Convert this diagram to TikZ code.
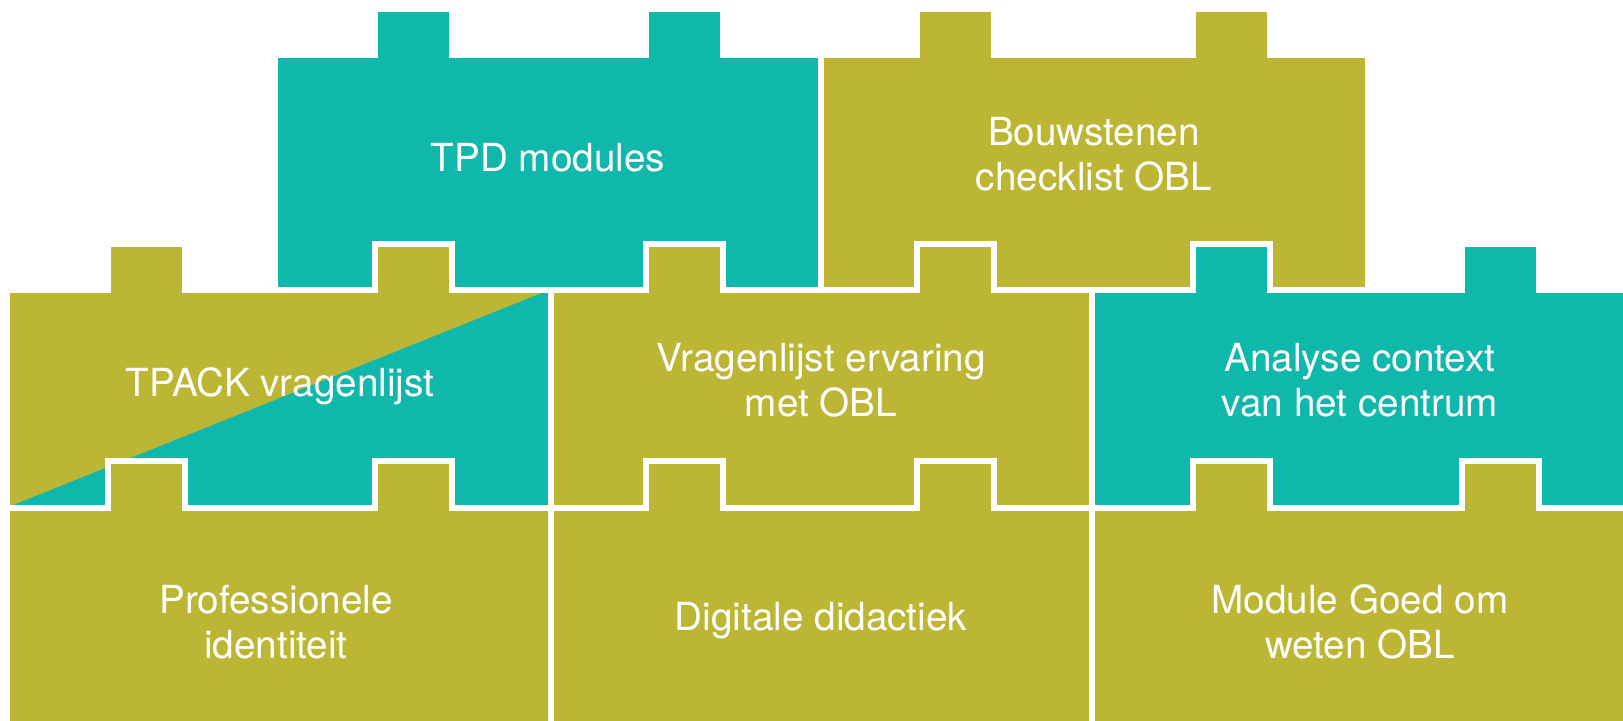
\documentclass[tikz,border=0pt]{standalone}
\usepackage{fontspec}
\setmainfont{TeX Gyre Heros}
\usepackage{tikz}
\definecolor{puzzleteal}{RGB}{16,184,171}
\definecolor{puzzleolive}{RGB}{189,182,52}
\newcommand\tabw{77}
\newcommand\puzzlepiece[9]{%
  \filldraw[piece,#9] (#1,#4) -- (#7,#4) -- (#7,#3) -- ({#7+\tabw},#3) -- ({#7+\tabw},#4)
    -- (#8,#4) -- (#8,#3) -- ({#8+\tabw},#3) -- ({#8+\tabw},#4) -- (#2,#4)
    -- (#2,#5) -- ({#8+\tabw},#5) -- ({#8+\tabw},#6) -- (#8,#6) -- (#8,#5)
    -- ({#7+\tabw},#5) -- ({#7+\tabw},#6) -- (#7,#6) -- (#7,#5) -- (#1,#5) -- cycle;}

\begin{document}
\begin{tikzpicture}[x=0.01cm,y=-0.01cm,
  piece/.style={draw=white,line width=0.06cm,line join=miter},
  piecetext/.style={text=white,align=center,font=\fontsize{11}{12.8}\selectfont}]
\useasboundingbox (0,0) rectangle (1623,720);
\clip (0,0) rectangle (1623,720);
\puzzlepiece{275}{821}{9}{55}{289.5}{243.5}{375}{646}{fill=puzzleteal}
\puzzlepiece{821}{1368}{9}{55}{289.5}{243.5}{917}{1193}{fill=puzzleolive}
\puzzlepiece{7}{550.5}{243.5}{289.5}{507.5}{461}{108}{375}{fill=puzzleolive,
  path picture={\fill[puzzleteal] (7,507.5) -- (550.5,289.5) -- (550.5,507.5) -- cycle;}}
\puzzlepiece{550.5}{1091.5}{243.5}{289.5}{507.5}{461}{646}{917}{fill=puzzleolive}
\puzzlepiece{1091.5}{1640}{243.5}{289.5}{507.5}{461}{1193}{1462}{fill=puzzleteal}
\puzzlepiece{7}{550.5}{461}{507.5}{730}{730}{108}{375}{fill=puzzleolive}
\puzzlepiece{550.5}{1091.5}{461}{507.5}{730}{730}{646}{917}{fill=puzzleolive}
\puzzlepiece{1091.5}{1640}{461}{507.5}{730}{730}{1193}{1462}{fill=puzzleolive}
\node[piecetext] (tpd) at (548,158) {TPD modules};
\node[piecetext] (bouw) at (1094,154) {Bouwstenen\\checklist OBL};
\node[piecetext] (tpack) at (280,386) {TPACK vragenlijst};
\node[piecetext] (vragen) at (821,380) {Vragenlijst ervaring\\met OBL};
\node[piecetext] (analyse) at (1360,380) {Analyse context\\van het centrum};
\node[piecetext] (prof) at (276,622) {Professionele\\identiteit};
\node[piecetext] (digi) at (821,621) {Digitale didactiek};
\node[piecetext] (module) at (1360,622) {Module Goed om\\weten OBL};
\end{tikzpicture}
\end{document}
